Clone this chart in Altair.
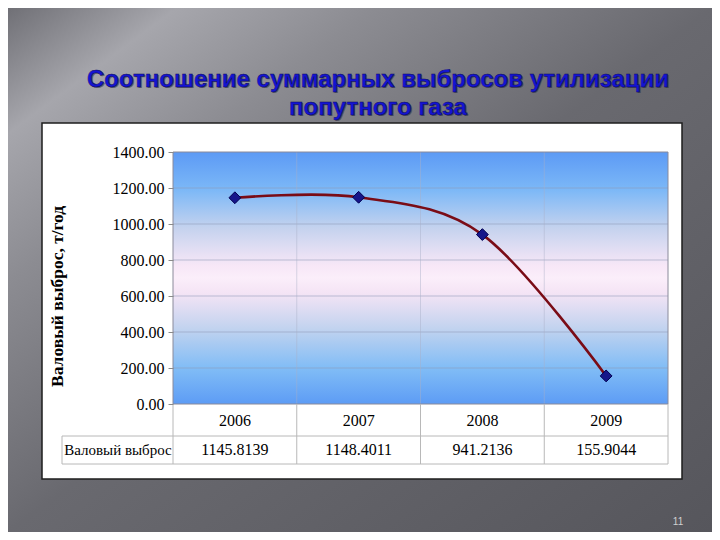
import altair as alt
import pandas as pd

# ---- data ----
years = ["2006", "2007", "2008", "2009"]
values = [1145.8139, 1148.4011, 941.2136, 155.9044]
grid_ticks = [200, 400, 600, 800, 1000, 1200]
y_ticks = [0, 200, 400, 600, 800, 1000, 1200, 1400]
title_lines = ["Соотношение суммарных выбросов утилизации", "попутного газа"]
y_title = "Валовый выброс, т/год"
row_label = "Валовый выброс"
page_no = "11"

df = pd.DataFrame({"year": years, "value": values})
df["label"] = [f"{v:.4f}" for v in values]
grid_df = pd.DataFrame({"value": grid_ticks})
one = pd.DataFrame({"a": [0]})

W, H = 495, 252
PL, PT = 165, 144
TOTW, TOTH = 704, 524

serif = "Liberation Serif"
sans = "Liberation Sans"

xscale = alt.Scale(type="band", paddingInner=0, paddingOuter=0, domain=years)
yscale = alt.Scale(domain=[0, 1400], nice=False, zero=True)
x_axis = alt.Axis(title=None, domain=False, ticks=False, grid=False,
                  labelFont=serif, labelFontSize=16, labelColor="black",
                  labelBaseline="middle", labelPadding=16, labelAngle=0, zindex=1)
y_axis = alt.Axis(title=None, values=y_ticks, format=".2f", domain=False, grid=False,
                  ticks=True, tickSize=5, tickColor="#8a8a8a",
                  labelFont=serif, labelFontSize=16, labelColor="black",
                  labelPadding=4, zindex=1)


def X(band):
    return alt.X("year:N", scale=xscale, bandPosition=band, axis=x_axis)


def Y(field="value"):
    return alt.Y(f"{field}:Q", scale=yscale, axis=y_axis)


slide_grad = alt.LinearGradient(
    gradient="linear",
    stops=[
        alt.GradientStop(offset=0, color="#707076"),
        alt.GradientStop(offset=0.12, color="#a6a6ac"),
        alt.GradientStop(offset=0.26, color="#8c8c92"),
        alt.GradientStop(offset=0.5, color="#69696f"),
        alt.GradientStop(offset=1, color="#56565c"),
    ],
    x1=0, y1=0, x2=1, y2=1,
)
plot_grad = alt.LinearGradient(
    gradient="linear",
    stops=[
        alt.GradientStop(offset=0, color="#5c9af5"),
        alt.GradientStop(offset=0.15, color="#7cb8f7"),
        alt.GradientStop(offset=0.3, color="#c4d2ee"),
        alt.GradientStop(offset=0.45, color="#f7e7f7"),
        alt.GradientStop(offset=0.5, color="#fbeefa"),
        alt.GradientStop(offset=0.56, color="#f4e4f5"),
        alt.GradientStop(offset=0.7, color="#c2d3ef"),
        alt.GradientStop(offset=0.86, color="#80bcf6"),
        alt.GradientStop(offset=1, color="#5d9cf5"),
    ],
    x1=0, y1=0, x2=0, y2=1,
)

base1 = alt.Chart(one)

slide_bg = base1.mark_rect(fill=slide_grad).encode(
    x=alt.value(-PL), x2=alt.value(TOTW - PL), y=alt.value(-PT), y2=alt.value(TOTH - PT)
)
box = base1.mark_rect(fill="white", stroke="#1e1e1e", strokeWidth=1.5).encode(
    x=alt.value(-131), x2=alt.value(509), y=alt.value(-29), y2=alt.value(327)
)
plot_bg = base1.mark_rect(fill=plot_grad).encode(
    x=alt.value(0), x2=alt.value(W), y=alt.value(0), y2=alt.value(H)
)

hgrid = alt.Chart(grid_df).mark_rule(color="#8f9ab8", strokeWidth=1, opacity=0.55).encode(
    y=Y(), x=alt.value(0), x2=alt.value(W)
)

vgrid = alt.Chart(df[df.year != "2006"]).mark_rule(color="#a8b0c8", strokeWidth=1, opacity=0.45).encode(
    x=X(0), y=alt.value(0), y2=alt.value(H),
)

frame = base1.mark_rect(fillOpacity=0, stroke="#8a8a9a", strokeWidth=1).encode(
    x=alt.value(0), x2=alt.value(W), y=alt.value(0), y2=alt.value(H)
)

tcol = "#b8b8b8"
tv = alt.Chart(df).mark_rule(color=tcol, strokeWidth=1).encode(
    x=X(0), y=alt.value(H), y2=alt.value(312),
)
tv_end = base1.mark_rule(color=tcol, strokeWidth=1).encode(
    x=alt.value(W), y=alt.value(H), y2=alt.value(312)
)
th1 = base1.mark_rule(color=tcol, strokeWidth=1).encode(
    x=alt.value(-111), x2=alt.value(W), y=alt.value(284)
)
th2 = base1.mark_rule(color=tcol, strokeWidth=1).encode(
    x=alt.value(-111), x2=alt.value(W), y=alt.value(312)
)
tv_left = base1.mark_rule(color=tcol, strokeWidth=1).encode(
    x=alt.value(-111), y=alt.value(284), y2=alt.value(312)
)

line = alt.Chart(df).mark_line(
    color="#7a0c16", strokeWidth=2.6, interpolate="cardinal", tension=0
).encode(x=X(0.5), y=Y())
points = alt.Chart(df).mark_point(
    shape="diamond", size=140, filled=True, fill="#16168a", stroke="#000050", strokeWidth=1, opacity=1
).encode(x=X(0.5), y=Y())

vals_text = alt.Chart(df).mark_text(font=serif, fontSize=16, color="black", baseline="middle").encode(
    x=X(0.5), y=alt.value(298), text="label:N",
)
row_text = base1.mark_text(font=serif, fontSize=15, color="black", baseline="middle", align="center").encode(
    x=alt.value(-55), y=alt.value(298), text=alt.value(row_label)
)
ytitle = base1.mark_text(font=serif, fontSize=17.5, fontWeight="bold", color="black",
                         angle=270, align="left", baseline="middle").encode(
    x=alt.value(-115), y=alt.value(235), text=alt.value(y_title)
)

title_layers = []
for txt, yy in zip(title_lines, [-72, -44]):
    title_layers.append(base1.mark_text(
        font=sans, fontSize=24, fontWeight="bold", color="#2a2a40", opacity=0.55,
        baseline="middle", align="center", dx=1.2, dy=1.2
    ).encode(x=alt.value(205), y=alt.value(yy), text=alt.value(txt)))
    title_layers.append(base1.mark_text(
        font=sans, fontSize=24, fontWeight="bold", color="#1414d2",
        stroke="#0a0a60", strokeWidth=0.5, baseline="middle", align="center"
    ).encode(x=alt.value(205), y=alt.value(yy), text=alt.value(txt)))

pnum = base1.mark_text(font=sans, fontSize=10, color="#d0d0d0", baseline="middle", align="center").encode(
    x=alt.value(505), y=alt.value(370), text=alt.value(page_no)
)

chart = alt.layer(
    slide_bg, box, plot_bg, hgrid, vgrid, frame,
    tv, tv_end, th1, th2, tv_left,
    line, points, vals_text, row_text, ytitle, *title_layers, pnum,
).properties(
    width=W, height=H,
    autosize=alt.AutoSizeParams(type="none"),
    padding={"left": PL, "top": PT, "right": TOTW - PL - W, "bottom": TOTH - PT - H},
).configure_view(strokeWidth=0)

chart.save("out.html", embed_options={"renderer": "svg", "actions": False})
